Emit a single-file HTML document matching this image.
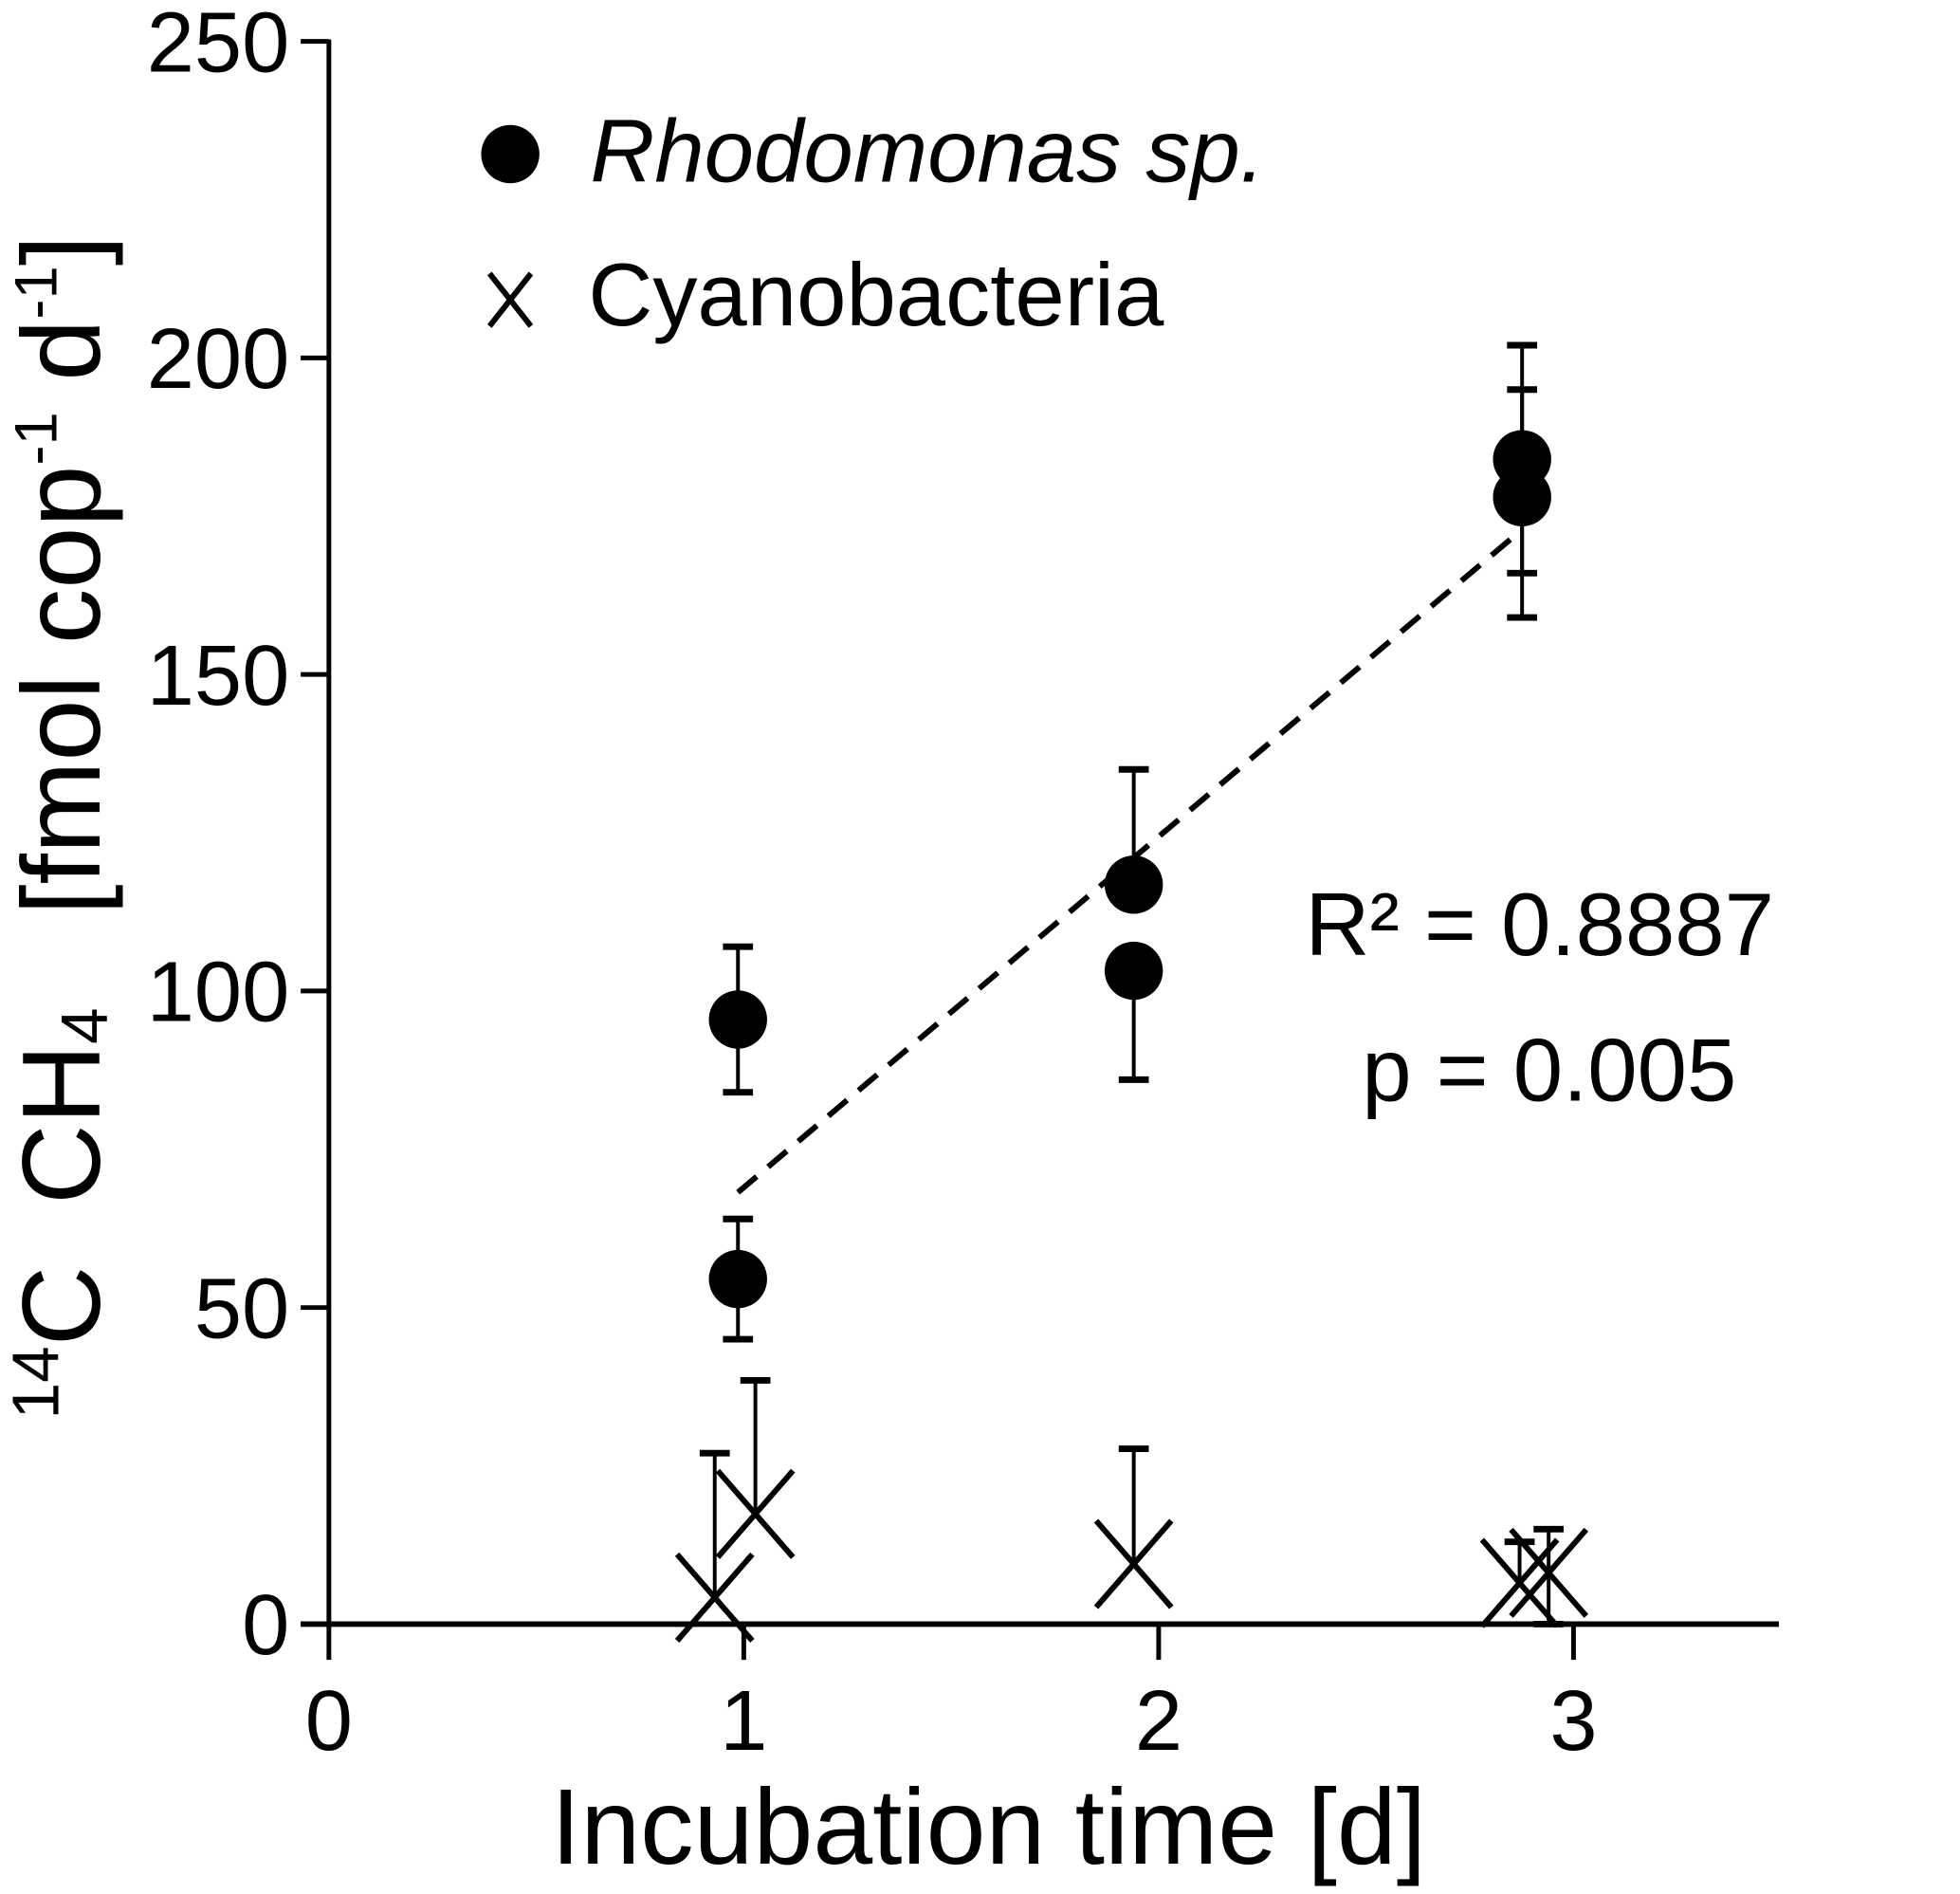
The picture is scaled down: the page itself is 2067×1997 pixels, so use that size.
<!DOCTYPE html>
<html><head><meta charset="utf-8"><style>
html,body{margin:0;padding:0;background:#fff}
svg{display:block}
text{font-family:"Liberation Sans",Arial,sans-serif;fill:#000}
</style></head><body>
<svg id="chart" width="2067" height="1997" viewBox="0 0 2067 1997" xmlns="http://www.w3.org/2000/svg">
<g transform="scale(0.991)">
<g id="axes"></g>
<g id="marks"></g>
<g>
  <circle cx="543" cy="164" r="31" fill="#000"/>
  <text x="628" y="193" font-size="95" font-style="italic">Rhodomonas sp.</text>
  <g stroke="#000" stroke-width="6">
    <line x1="521" y1="291" x2="565" y2="347"/><line x1="565" y1="291" x2="521" y2="347"/>
  </g>
  <text x="626" y="346" font-size="95">Cyanobacteria</text>
</g>
<text x="1888" y="1016" font-size="95" text-anchor="end">R² = 0.8887</text>
<text x="1848" y="1171" font-size="95" text-anchor="end">p = 0.005</text>
<text x="1052" y="1983" font-size="114" text-anchor="middle">Incubation time [d]</text>
<text transform="translate(106,880) rotate(-90)" font-size="118" text-anchor="middle" xml:space="preserve"><tspan font-size="70" dy="-44">14</tspan><tspan dy="44">C  CH</tspan><tspan font-size="70" dy="8">4</tspan><tspan dy="-8">   [fmol cop</tspan><tspan font-size="64" dy="-46">-1</tspan><tspan dy="46"> d</tspan><tspan font-size="64" dy="-46">-1</tspan><tspan dy="46">]</tspan></text>
</g>
</svg>
<script>
const xTicks=[0,1,2,3];
const yTicks=[0,50,100,150,200,250];
const rhoX=[0.986,0.986,1.94,1.94,2.876,2.876];
const rhoY=[95.5,54.5,116.8,103.2,184,178];
const rhoErrUp=[107,64,135,null,202,195];
const rhoErrLo=[84,45,null,86,166,159];
const cyaX=[0.93,1.028,1.94,2.87,2.94];
const cyaY=[4.2,17.4,9.5,6.5,8.1];
const cyaErrUp=[27,38.5,27.7,13,15];
const cyaErrLo=[null,null,null,null,0];
const fitX=[0.986,2.876];
const fitY=[68.2,172.9];

const NS="http://www.w3.org/2000/svg";
const sx=v=>350+v*441.5;
const sy=v=>1728-v*(1684/250);
function mk(parent,tag,attrs){const e=document.createElementNS(NS,tag);for(const k in attrs)e.setAttribute(k,attrs[k]);parent.appendChild(e);return e;}
const axes=document.getElementById('axes');
const marks=document.getElementById('marks');

let yAxis=mk(axes,'line',{x1:350,y1:sy(250)-2,x2:350,y2:sy(0)+3,stroke:'#000','stroke-width':5});


let xAxis=mk(axes,'line',{x1:320,y1:sy(0),x2:1893,y2:sy(0),stroke:'#000','stroke-width':6});


yTicks.forEach(t=>{
  let l=mk(axes,'line',{x1:320,y1:sy(t),x2:350,y2:sy(t),stroke:'#000','stroke-width':5});
  
  
  let tx=mk(axes,'text',{x:308,y:sy(t)+32,'font-size':91,'text-anchor':'end'});
  tx.textContent=t;
  
  
});
xTicks.forEach(t=>{
  let l=mk(axes,'line',{x1:sx(t),y1:sy(0),x2:sx(t),y2:1766,stroke:'#000','stroke-width':5});
  
  
  let tx=mk(axes,'text',{x:sx(t),y:1862,'font-size':91,'text-anchor':'middle'});
  tx.textContent=t;
  
  
});

function errBar(x,y,v,name){
  let l=mk(marks,'line',{x1:sx(x),y1:sy(y),x2:sx(x),y2:sy(v),stroke:'#000','stroke-width':4});
  
  
  let c=mk(marks,'line',{x1:sx(x)-16,y1:sy(v),x2:sx(x)+16,y2:sy(v),stroke:'#000','stroke-width':7});
  
  
}

let fit=mk(marks,'line',{x1:sx(fitX[0]),y1:sy(fitY[0]),x2:sx(fitX[1]),y2:sy(fitY[1]),stroke:'#000','stroke-width':6,'stroke-dasharray':'26,16'});



rhoX.forEach((x,i)=>{
  if(rhoErrUp[i]!=null)errBar(x,rhoY[i],rhoErrUp[i],'rhodomonas-error-bar');
  if(rhoErrLo[i]!=null)errBar(x,rhoY[i],rhoErrLo[i],'rhodomonas-error-bar');
});
rhoX.forEach((x,i)=>{
  let c=mk(marks,'circle',{cx:sx(x),cy:sy(rhoY[i]),r:31,fill:'#000'});
  
  
});
cyaX.forEach((x,i)=>{
  if(cyaErrUp[i]!=null)errBar(x,cyaY[i],cyaErrUp[i],'cyanobacteria-error-bar');
  if(cyaErrLo[i]!=null)errBar(x,cyaY[i],cyaErrLo[i],'cyanobacteria-error-bar');
  const cx=sx(x),cy=sy(cyaY[i]);
  let g=mk(marks,'g',{stroke:'#000','stroke-width':6});
  
  
  mk(g,'line',{x1:cx-40,y1:cy-46,x2:cx+40,y2:cy+46});
  mk(g,'line',{x1:cx+40,y1:cy-46,x2:cx-40,y2:cy+46});
});
</script>
</body></html>
